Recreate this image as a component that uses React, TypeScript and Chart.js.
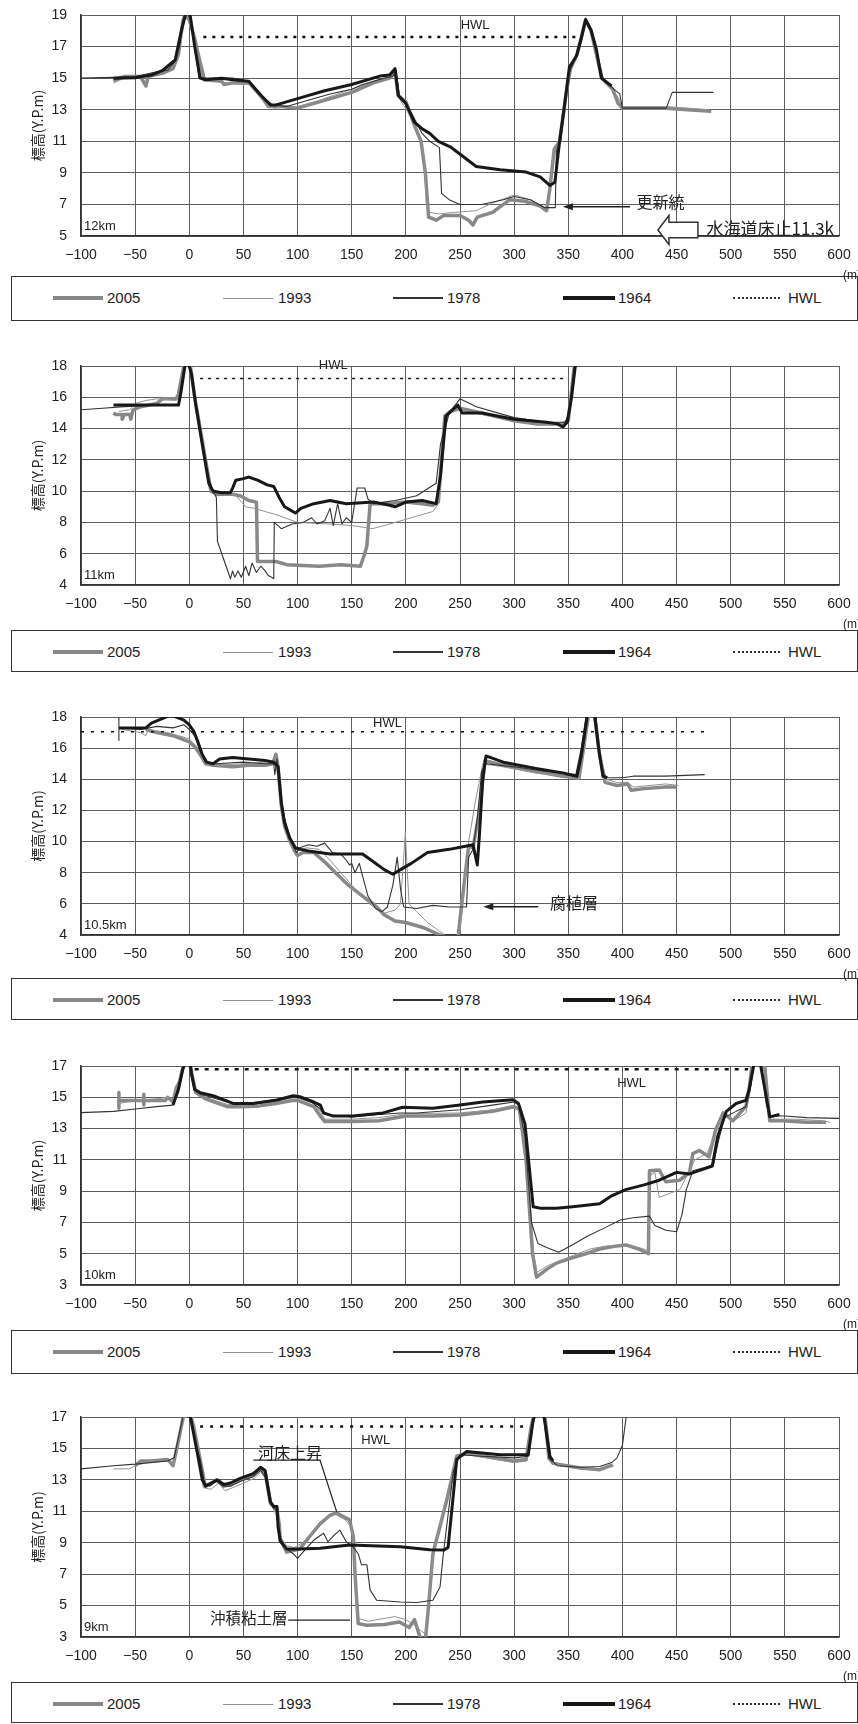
import React, { useEffect, useRef } from 'react';
import { Chart, registerables } from 'chart.js';

Chart.register(...registerables);

type Pt = [number, number];

// ---------- categories / labels ----------
const years = ['2005', '1993', '1978', '1964'];
const hwlName = 'HWL';
const yTitle = '標高(Y.P.m)';
const unitLabel = '(m)';
const xMin = -100;
const xMax = 600;
const xStep = 50;
const yStep = 2;

// ---------- 12km ----------
const km12_2005: Pt[] = [[-70,14.8],[-65,15.0],[-60,15.1],[-45,15.1],[-40,14.5],[-38,15.1],[-25,15.3],[-15,15.6],[-10,16.5],[-6,18.6],[-4,19.0],[0,18.7],[5,17.5],[10,16.0],[14,14.9],[30,14.8],[32,14.6],[40,14.7],[55,14.7],[65,14.0],[73,13.2],[85,13.2],[100,13.1],[120,13.5],[150,14.1],[170,14.7],[185,15.0],[190,15.4],[193,13.9],[200,13.5],[208,12.0],[214,11.0],[218,9.0],[221,6.2],[228,6.0],[235,6.3],[250,6.3],[258,6.0],[262,5.7],[266,6.2],[280,6.5],[296,7.3],[310,7.2],[324,6.9],[330,6.6],[333,8.0],[337,10.5],[342,11.0],[348,14.0],[352,15.6],[358,16.5],[366,18.7],[371,18.0],[381,15.0],[391,14.3],[396,13.4],[400,13.1],[440,13.1],[460,13.0],[482,12.9]];
const km12_1993: Pt[] = [[-70,14.7],[-60,15.0],[-40,15.2],[-25,15.4],[-15,15.8],[-10,16.8],[-5,18.8],[-2,19.0],[2,18.2],[8,16.0],[12,15.0],[30,14.7],[55,14.6],[70,13.4],[78,13.1],[100,13.2],[120,13.6],[150,14.3],[175,14.9],[186,15.0],[190,15.3],[193,13.8],[205,12.5],[213,11.2],[217,10.0],[219,7.0],[222,6.5],[230,6.4],[245,6.5],[265,6.6],[280,7.1],[300,7.6],[315,7.3],[328,6.8],[332,7.2],[336,10.3],[342,11.2],[350,15.0],[360,17.0],[366,18.8],[372,17.8],[381,15.0],[395,13.9],[400,13.2],[440,13.2],[480,13.0]];
const km12_1978: Pt[] = [[-100,15.0],[-70,15.05],[-50,15.1],[-30,15.4],[-20,15.5],[-14,16.0],[-9,17.0],[-5,18.9],[-2,19.2],[1,18.7],[6,16.5],[9,15.0],[20,15.0],[40,15.0],[55,14.8],[68,13.8],[77,13.3],[90,13.2],[105,13.5],[130,14.0],[150,14.3],[160,14.6],[180,15.0],[188,15.1],[191,15.5],[194,13.9],[205,12.8],[215,11.5],[222,11.0],[231,10.6],[233,7.7],[240,7.3],[250,7.0],[270,7.0],[290,7.3],[300,7.5],[315,7.3],[328,6.8],[338,6.8],[339,10.4],[343,11.0],[350,15.2],[357,16.4],[366,18.8],[372,17.9],[382,15.0],[392,14.3],[397.5,14.0],[400,13.1],[440.5,13.1],[446,14.1],[484,14.1]];
const km12_1964: Pt[] = [[-70,15.0],[-50,15.03],[-35,15.2],[-25,15.47],[-13,16.15],[-8,17.8],[-4,18.9],[-2,19.3],[1,18.9],[5,17.0],[10,15.0],[15,14.9],[30,15.0],[40,14.9],[55,14.8],[65,14.0],[75,13.3],[80,13.3],[85,13.4],[100,13.7],[125,14.2],[150,14.6],[176,15.13],[185,15.2],[190,15.6],[193,13.9],[200,13.4],[208,12.2],[215,11.8],[222,11.5],[230,11.0],[241,10.65],[265,9.4],[287,9.2],[311,9.05],[324,8.75],[333,8.2],[337.6,8.4],[342,11.0],[346,13.0],[351,15.7],[357.6,16.4],[362,17.5],[366,18.7],[371,18.05],[376,16.8],[380.6,15.0],[390,14.5]];
const km12_hwl: Pt[] = [[13,17.6],[357,17.6]];

// ---------- 11km ----------
const km11_2005: Pt[] = [[-70,15.0],[-68,14.9],[-62,14.9],[-62,14.6],[-60,14.9],[-55,14.9],[-54,14.6],[-52,15.2],[-45,15.4],[-30,15.6],[-25,15.9],[-12,15.9],[-10,16.2],[-5,18.0],[-2,18.2],[1,18.0],[5,16.0],[10,14.0],[15,12.0],[20,10.0],[25,9.8],[40,9.8],[47,9.7],[55,9.4],[62,9.3],[63,5.5],[80,5.5],[90,5.3],[120,5.2],[140,5.3],[158,5.2],[162,6.0],[164,6.5],[167,9.2],[180,9.2],[200,9.3],[215,9.2],[225,9.1],[230,9.3],[236,14.8],[241,15.1],[250,15.3],[270,15.0],[300,14.5],[320,14.3],[345,14.3],[350,14.5],[356,18.3]];
const km11_1993: Pt[] = [[-65,15.1],[-55,15.2],[-50,15.6],[-40,15.8],[-30,15.9],[-12,15.8],[-9,16.2],[-5,17.8],[-2,18.2],[1,17.8],[8,15.0],[15,12.0],[20,10.2],[30,9.8],[42,9.8],[52,9.0],[60,8.9],[70,8.7],[80,8.5],[100,8.0],[130,7.9],[150,7.8],[169,7.6],[180,7.8],[200,8.2],[215,8.5],[225,8.7],[230,9.2],[235,13.5],[240,15.0],[250,15.2],[270,14.9],[300,14.5],[330,14.3],[346,14.3],[350,14.8],[356,18.3]];
const km11_1978: Pt[] = [[-100,15.2],[-80,15.3],[-60,15.4],[-30,15.5],[-10,15.5],[-9,16.0],[-5,17.8],[-2,18.2],[1,18.0],[6,15.5],[12,13.0],[18,10.8],[22,10.0],[25,9.6],[26,6.8],[32,5.6],[38,4.4],[40,4.9],[42,4.5],[45,4.9],[48,4.5],[52,5.2],[55,4.6],[58,5.4],[62,4.8],[66,5.2],[70,4.9],[73,4.6],[76,4.5],[78,4.4],[78.5,8.0],[85,7.6],[95,7.9],[105,8.0],[113,8.3],[118,7.9],[125,8.1],[130,8.9],[133,7.8],[137,9.2],[141,7.9],[145,8.3],[150,8.0],[155,10.2],[162,10.2],[165,9.5],[170,9.2],[190,9.4],[210,9.7],[228,10.5],[232,13.0],[240,15.0],[250,15.9],[265,15.4],[300,14.7],[330,14.4],[347,14.4],[351,15.0],[356,18.3]];
const km11_1964: Pt[] = [[-70,15.5],[-50,15.5],[-30,15.5],[-10,15.5],[-8,16.2],[-4,18.0],[-1,18.2],[2,17.5],[6,15.5],[12,13.0],[18,10.5],[22,10.0],[30,9.9],[38,9.9],[40,10.2],[43,10.7],[50,10.8],[55,10.9],[63,10.7],[72,10.4],[78,10.3],[83,9.6],[88,9.0],[93,8.8],[98,8.6],[103,8.9],[115,9.2],[130,9.4],[145,9.2],[170,9.3],[185,9.1],[190,9.0],[200,9.3],[215,9.4],[228,9.2],[232,11.0],[237,14.8],[243,15.2],[248,15.5],[252,15.0],[270,15.0],[300,14.6],[330,14.4],[340,14.3],[345,14.1],[349,14.4],[353,16.0],[357,18.3]];
const km11_hwl: Pt[] = [[10,17.2],[348,17.2]];

// ---------- 10.5km ----------
const km105_2005: Pt[] = [[-40,17.2],[-30,17.0],[-15,16.8],[0,16.4],[5,16.1],[10,15.6],[15,15.0],[22,14.9],[40,14.8],[55,14.9],[70,14.9],[77,15.0],[80,15.6],[82,14.8],[85,12.3],[88,11.0],[93,10.0],[98,9.3],[100,9.1],[105,9.3],[115,9.3],[125,8.7],[135,8.0],[147,7.2],[160,6.5],[170,6.0],[180,5.3],[190,4.9],[200,4.8],[215,4.5],[225,4.2],[235,3.9],[240,3.6],[248,3.7],[250,5.0],[255,8.0],[258,9.7],[262,9.6],[268,12.0],[273,15.2],[290,14.9],[320,14.5],[345,14.2],[360,14.1],[363,15.5],[369,18.3],[374,18.3],[379,15.5],[384,13.8],[395,13.6],[405,13.7],[408,13.3],[420,13.4],[440,13.5],[450,13.5]];
const km105_1993: Pt[] = [[-62,17.2],[-45,17.0],[-40,16.8],[-38,17.2],[-20,17.0],[0,16.6],[8,16.0],[14,15.1],[25,14.9],[50,15.0],[70,15.1],[78,15.2],[81,14.6],[84,12.8],[88,11.3],[93,10.1],[100,9.4],[108,9.6],[120,9.5],[130,8.8],[140,8.0],[150,7.2],[160,6.4],[170,5.8],[180,5.4],[190,5.6],[195,6.0],[198,9.0],[199.5,10.6],[201,8.5],[203,6.0],[210,5.5],[220,4.8],[230,4.3],[238,3.9],[244,3.7],[250,4.3],[254,7.0],[258,10.0],[264,12.5],[271,15.0],[290,14.8],[320,14.4],[345,14.2],[360,14.0],[365,16.0],[370,18.3],[375,18.3],[380,15.5],[385,14.0],[395,13.8],[405,13.8],[410,13.5],[440,13.7],[452,13.6]];
const km105_1978: Pt[] = [[-65,18.3],[-65,16.5],[-65,17.3],[-45,17.2],[-30,17.4],[-15,17.3],[-5,17.5],[0,17.2],[5,16.8],[10,15.8],[15,15.1],[25,15.0],[50,15.1],[70,15.0],[78,15.0],[79,14.3],[81,15.3],[84,13.0],[88,11.5],[94,10.0],[99,9.3],[102,9.6],[110,9.8],[118,9.7],[125,9.9],[132,9.3],[140,9.2],[145,8.8],[148,8.5],[150,8.6],[153,8.0],[157,8.6],[160,7.8],[165,6.5],[172,5.7],[178,5.5],[183,5.8],[188,7.2],[192,9.0],[195,7.0],[198,5.8],[210,5.7],[225,5.9],[240,5.8],[256,5.8],[258,9.0],[262,9.5],[266,11.5],[270,14.5],[274,15.0],[300,14.8],[330,14.5],[357,14.3],[362,16.0],[367,18.3],[375,18.3],[380,15.0],[384,14.1],[400,14.1],[410,14.2],[440,14.2],[476,14.3]];
const km105_1964: Pt[] = [[-65,17.3],[-40,17.3],[-35,17.6],[-25,17.9],[-18,18.1],[-12,18.0],[-5,17.8],[0,17.5],[4,17.1],[8,16.4],[12,15.6],[16,15.1],[22,15.0],[28,15.3],[40,15.4],[55,15.3],[70,15.2],[78,15.1],[82,14.8],[85,12.5],[88,11.2],[93,10.2],[98,9.6],[103,9.5],[110,9.4],[120,9.3],[130,9.2],[145,9.2],[160,9.2],[170,8.7],[180,8.2],[188,7.9],[195,8.2],[205,8.6],[220,9.3],[240,9.5],[255,9.7],[262,9.8],[266,8.5],[268,10.5],[271,14.0],[274,15.5],[290,15.1],[320,14.7],[345,14.4],[358,14.2],[362,15.5],[368,18.3],[374,18.3],[378,16.0],[382,14.2],[386,14.1]];
const km105_hwl: Pt[] = [[-100,17.05],[477,17.05]];

// ---------- 10km ----------
const km10_2005: Pt[] = [[-65,14.8],[-65,14.3],[-65,15.3],[-65,14.8],[-42,14.8],[-42,15.2],[-42,14.5],[-42,14.8],[-22,14.8],[-20,15.0],[-15,14.7],[-12,15.6],[-9,16.0],[-5,17.2],[0,17.4],[3,16.3],[6,15.3],[15,14.9],[35,14.4],[50,14.4],[65,14.45],[80,14.6],[95,14.8],[100,14.8],[115,14.4],[121,13.8],[125,13.45],[150,13.45],[175,13.5],[200,13.8],[225,13.8],[250,13.87],[280,14.1],[300,14.4],[305,14.2],[311,11.0],[317,5.0],[320.7,3.5],[330,4.0],[339,4.4],[352,4.7],[366,5.0],[379,5.3],[395,5.5],[404,5.55],[415,5.3],[424,5.0],[425,10.3],[434,10.35],[440,9.6],[453,9.7],[462,10.2],[465,11.4],[471,11.6],[480,11.2],[486,12.9],[493,14.0],[502,13.5],[514,14.4],[517,15.5],[520,17.3],[531,17.3],[536,13.5],[548,13.5],[570,13.4],[588,13.4]];
const km10_1993: Pt[] = [[-65,14.6],[-50,14.8],[-30,14.9],[-20,15.0],[-15,14.7],[-12,15.6],[-7,16.5],[-3,17.3],[0,17.5],[3,16.5],[6,15.4],[15,15.0],[35,14.55],[50,14.5],[65,14.6],[80,14.75],[95,14.95],[100,14.95],[115,14.6],[122,14.0],[125,13.6],[150,13.6],[175,13.7],[200,13.95],[250,14.0],[280,14.2],[300,14.5],[305,14.3],[312,11.0],[318,5.0],[321,3.8],[330,4.2],[340,4.5],[355,4.9],[370,5.3],[385,5.5],[400,5.5],[415,5.4],[424,5.2],[425,10.0],[430,10.2],[434,8.6],[445,8.9],[453,9.1],[459,9.9],[467,11.0],[478,11.4],[485,12.5],[492,13.8],[505,13.6],[514,14.0],[518,15.5],[521,17.3],[530,17.3],[535,14.0],[540,13.6],[560,13.6],[585,13.5],[592,13.4]];
const km10_1978: Pt[] = [[-100,14.02],[-70,14.1],[-50,14.25],[-30,14.4],[-15,14.5],[-12,15.2],[-7,16.5],[-3,17.3],[0,17.5],[2,16.8],[5,15.6],[10,15.2],[20,15.0],[35,14.7],[50,14.6],[65,14.7],[80,14.85],[95,15.0],[100,15.0],[113,14.7],[120,14.3],[125,13.9],[150,13.75],[175,13.9],[195,14.0],[210,14.0],[250,14.2],[280,14.5],[300,14.7],[304,14.5],[310,12.5],[316,7.0],[322,5.65],[330,5.4],[341,5.1],[355,5.6],[367,6.1],[385,6.7],[398,7.15],[410,7.3],[425,7.4],[430,6.8],[440,6.5],[450,6.4],[455,7.5],[459,9.1],[465,10.3],[475,10.5],[484,10.7],[488,12.0],[494,13.7],[505,14.1],[514,14.4],[518,15.5],[522,17.3],[528,17.3],[533,14.5],[537,13.8],[550,13.8],[570,13.7],[600,13.65]];
const km10_1964: Pt[] = [[-15,14.5],[-10,15.5],[-6,16.8],[-3,17.3],[0,17.5],[2,16.5],[5,15.5],[10,15.3],[22,15.1],[41,14.6],[59,14.6],[81,14.83],[96,15.1],[102,15.04],[115,14.7],[121,14.5],[124,14.0],[133,13.8],[151,13.8],[179,14.0],[197,14.36],[225,14.3],[250,14.5],[271,14.7],[299,14.85],[304,14.6],[310,13.3],[317.6,8.0],[325,7.9],[339,7.9],[354,8.0],[379,8.2],[390,8.7],[403,9.1],[420,9.4],[434,9.7],[450,10.2],[462,10.1],[483,10.6],[488,12.5],[496,14.1],[505,14.6],[514,14.8],[517,15.5],[522,17.3],[527,17.3],[536,13.75],[545,13.9]];
const km10_hwl: Pt[] = [[5,16.8],[516,16.8]];

// ---------- 9km ----------
const km9_2005: Pt[] = [[-50,13.9],[-45,14.2],[-35,14.2],[-20,14.3],[-15,13.9],[-10,15.5],[-5,17.2],[0,17.4],[4,16.4],[10,14.3],[14.7,12.6],[19,12.7],[25,13.0],[32,12.6],[38,12.7],[47,13.0],[59,13.3],[65,13.75],[70,13.5],[75,11.5],[78,11.3],[81,11.1],[83,10.2],[84,9.2],[90,8.4],[96,8.5],[102,8.6],[110,9.3],[120.7,10.2],[130,10.75],[136,10.9],[142,10.66],[148,10.45],[151.5,9.4],[153,7.05],[156,3.85],[164,3.75],[180,3.8],[194,3.95],[203,3.6],[208,4.1],[213,3.0],[218,2.8],[221,5.0],[225,8.3],[237.7,11.7],[247,14.5],[256,14.7],[299,14.2],[311,14.3],[316,16.5],[319,17.3],[328,17.3],[333,14.3],[336,14.05],[361,13.75],[379,13.65],[391,13.95]];
const km9_1993: Pt[] = [[-70,13.7],[-55,13.7],[-50,13.9],[-40,14.1],[-20,14.2],[-15,14.0],[-10,15.5],[-5,17.2],[0,17.4],[4,16.0],[8,14.5],[13,12.5],[20,12.4],[27,12.8],[33,12.3],[40,12.5],[50,12.8],[60,13.1],[66,13.5],[71,13.0],[75,11.5],[80,10.8],[84,9.4],[90,8.8],[97,8.7],[105,9.0],[115,9.8],[125,10.5],[135,10.8],[143,10.5],[150,10.0],[152,8.5],[155,4.2],[165,4.0],[190,4.3],[200,4.1],[207,3.8],[212,3.5],[218,3.2],[225,8.0],[236,11.5],[246,14.3],[256,14.6],[300,14.1],[312,14.2],[317,16.8],[320,17.3],[327,17.3],[331,14.3],[340,14.0],[360,13.7],[380,13.6],[392,13.9]];
const km9_1978: Pt[] = [[-100,13.7],[-70,13.9],[-50,14.0],[-20,14.2],[-14,14.4],[-9,16.0],[-5,17.3],[0,17.4],[3,16.5],[7,15.0],[10,14.3],[14,12.8],[19,12.6],[25,12.9],[31,12.6],[38,12.6],[47,12.9],[59,13.2],[66,13.6],[70,13.2],[74,11.6],[78,11.2],[81,11.0],[84,9.3],[90,8.6],[96,8.3],[100,8.0],[105,8.4],[115,9.17],[124,9.6],[128,9.06],[134,9.5],[139,9.8],[145,9.06],[151,8.75],[156,8.3],[159,7.6],[164,7.6],[167,6.0],[173,5.34],[195,5.23],[210,5.2],[225,5.34],[231.6,6.2],[234.6,8.3],[244,13.6],[250,14.6],[270,14.5],[300,14.4],[313,14.5],[317,16.5],[320,17.3],[327,17.3],[332,14.4],[340,13.9],[360,13.8],[379,13.85],[390,14.1],[395,14.4],[400,15.2],[404,17.3]];
const km9_1964: Pt[] = [[-2,17.3],[0,17.4],[3,16.3],[8,14.5],[12,13.0],[15,12.6],[20,12.8],[26,13.0],[32,12.7],[38,12.8],[47,13.1],[59,13.4],[66,13.8],[70,13.6],[75,11.6],[78,11.3],[81,11.3],[82,10.0],[84,9.1],[90,8.6],[96,8.6],[102,8.6],[121,8.65],[148,8.85],[195,8.75],[222,8.55],[235,8.53],[239,8.7],[244,12.15],[247,14.3],[256,14.8],[287,14.6],[313,14.6],[317.6,16.8],[320,17.3],[327,17.3],[333,14.5],[336,14.2]];
const km9_hwl: Pt[] = [[10,16.4],[313,16.4]];

// ---------- styles ----------
const SANS = "'Liberation Sans', Arial, sans-serif";
const CJK = "'Noto Sans CJK JP', 'Noto Sans CJK SC', sans-serif";
const INK = '#222222';
const GRID = '#5e5e5e';
const W = 858;
const PAD_T = 15;
const X_H = 50;
const Y_W = 81;
const PAD_R = 19;

const seriesStyle = [
  { color: '#888888', width: 3.5, order: 4 },
  { color: '#939393', width: 1, order: 3 },
  { color: '#333333', width: 1.1, order: 2 },
  { color: '#181818', width: 3, order: 1 },
];

type Note =
  | { t: 'text'; x: number; y: number; s: string; font: string; align: CanvasTextAlign }
  | { t: 'arrow'; x1: number; y1: number; x2: number; y2: number }
  | { t: 'poly'; pts: Pt[] }
  | { t: 'block'; x: number; y: number };

const panels = [
  {
    km: '12km', plotTop: 15, plotH: 221, yMin: 5, yMax: 19,
    series: [km12_2005, km12_1993, km12_1978, km12_1964], hwl: km12_hwl,
    hwlW: 2.5, hwlDash: [3, 6], legendTop: 276, legendH: 45,
    notes: [
      { t: 'text', x: 264, y: 18.37, s: hwlName, font: `13px ${SANS}`, align: 'center' },
      { t: 'arrow', x1: 345, y1: 6.86, x2: 407, y2: 6.86 },
      { t: 'text', x: 413, y: 7.18, s: '更新統', font: `16px ${CJK}`, align: 'left' },
      { t: 'block', x: 432.8, y: 5.38 },
      { t: 'text', x: 477.7, y: 5.49, s: '水海道床止11.3k', font: `17px ${CJK}`, align: 'left' },
    ] as Note[],
  },
  {
    km: '11km', plotTop: 366, plotH: 219, yMin: 4, yMax: 18,
    series: [km11_2005, km11_1993, km11_1978, km11_1964], hwl: km11_hwl,
    hwlW: 1.5, hwlDash: [3, 5], legendTop: 630, legendH: 42,
    notes: [
      { t: 'text', x: 132.9, y: 18.02, s: hwlName, font: `13px ${SANS}`, align: 'center' },
    ] as Note[],
  },
  {
    km: '10.5km', plotTop: 717, plotH: 218, yMin: 4, yMax: 18,
    series: [km105_2005, km105_1993, km105_1978, km105_1964], hwl: km105_hwl,
    hwlW: 1.5, hwlDash: [3, 7], legendTop: 978, legendH: 42,
    notes: [
      { t: 'text', x: 183, y: 17.6, s: hwlName, font: `13px ${SANS}`, align: 'center' },
      { t: 'arrow', x1: 271.5, y1: 5.82, x2: 322.3, y2: 5.82 },
      { t: 'text', x: 333, y: 6.03, s: '腐植層', font: `16px ${CJK}`, align: 'left' },
    ] as Note[],
  },
  {
    km: '10km', plotTop: 1066, plotH: 219, yMin: 3, yMax: 17,
    series: [km10_2005, km10_1993, km10_1978, km10_1964], hwl: km10_hwl,
    hwlW: 2.5, hwlDash: [4, 6], legendTop: 1330, legendH: 44,
    notes: [
      { t: 'text', x: 408.5, y: 15.89, s: hwlName, font: `13px ${SANS}`, align: 'center' },
    ] as Note[],
  },
  {
    km: '9km', plotTop: 1417, plotH: 220, yMin: 3, yMax: 17,
    series: [km9_2005, km9_1993, km9_1978, km9_1964], hwl: km9_hwl,
    hwlW: 2.5, hwlDash: [3, 7], legendTop: 1682, legendH: 41,
    notes: [
      { t: 'text', x: 172.2, y: 15.54, s: hwlName, font: `13px ${SANS}`, align: 'center' },
      { t: 'text', x: 93, y: 14.73, s: '河床上昇', font: `16px ${CJK}`, align: 'center' },
      { t: 'poly', pts: [[59.1, 14.26], [120.7, 14.26], [136.1, 10.97]] },
      { t: 'text', x: 19.1, y: 4.19, s: '沖積粘土層', font: `15.5px ${CJK}`, align: 'left' },
      { t: 'poly', pts: [[91.4, 4.08], [148.4, 4.08]] },
    ] as Note[],
  },
];

const legendLines = [
  { x1: 53, x2: 103, tx: 107, h: 4, color: '#888888', dotted: false },
  { x1: 223, x2: 273, tx: 278, h: 1, color: '#939393', dotted: false },
  { x1: 393, x2: 443, tx: 447, h: 1.5, color: '#333333', dotted: false },
  { x1: 563, x2: 615, tx: 618, h: 4, color: '#181818', dotted: false },
  { x1: 733, x2: 780, tx: 788, h: 2, color: '#333333', dotted: true },
];

function drawNotes(chart: any, p: any) {
  const { ctx, chartArea: a, scales } = chart;
  const xs = scales.x;
  const ys = scales.y;
  const px = (v: number) => xs.getPixelForValue(v);
  const py = (v: number) => ys.getPixelForValue(v);
  ctx.save();
  ctx.fillStyle = INK;
  ctx.strokeStyle = INK;
  ctx.textBaseline = 'alphabetic';
  ctx.textAlign = 'left';
  ctx.font = `13px ${SANS}`;
  ctx.fillText(p.km, a.left + 3, a.bottom - 6);
  ctx.font = `12px ${SANS}`;
  ctx.textBaseline = 'middle';
  ctx.fillText(unitLabel, 843, a.bottom + 40);
  for (const n of p.notes as Note[]) {
    if (n.t === 'text') {
      ctx.font = n.font;
      ctx.textAlign = n.align;
      ctx.textBaseline = 'middle';
      ctx.fillStyle = INK;
      ctx.fillText(n.s, px(n.x), py(n.y));
    } else if (n.t === 'arrow') {
      const x1 = px(n.x1), y1 = py(n.y1), x2 = px(n.x2), y2 = py(n.y2);
      ctx.lineWidth = 1.5;
      ctx.beginPath();
      ctx.moveTo(x1 + 6, y1);
      ctx.lineTo(x2, y2);
      ctx.stroke();
      ctx.beginPath();
      ctx.moveTo(x1, y1);
      ctx.lineTo(x1 + 10, y1 - 3.5);
      ctx.lineTo(x1 + 10, y1 + 3.5);
      ctx.closePath();
      ctx.fill();
    } else if (n.t === 'poly') {
      ctx.lineWidth = 1.2;
      ctx.beginPath();
      n.pts.forEach(([x, y], i) => (i ? ctx.lineTo(px(x), py(y)) : ctx.moveTo(px(x), py(y))));
      ctx.stroke();
    } else if (n.t === 'block') {
      const tx = px(n.x), ty = py(n.y);
      ctx.beginPath();
      ctx.moveTo(tx, ty);
      ctx.lineTo(tx + 11, ty - 14.5);
      ctx.lineTo(tx + 11, ty - 7.8);
      ctx.lineTo(tx + 40, ty - 7.8);
      ctx.lineTo(tx + 40, ty + 7.8);
      ctx.lineTo(tx + 11, ty + 7.8);
      ctx.lineTo(tx + 11, ty + 14.5);
      ctx.closePath();
      ctx.fillStyle = '#ffffff';
      ctx.fill();
      ctx.lineWidth = 1.5;
      ctx.strokeStyle = '#333';
      ctx.stroke();
    }
  }
  ctx.restore();
}

function PanelChart({ p }: { p: any }) {
  const ref = useRef<HTMLCanvasElement | null>(null);
  const H = PAD_T + p.plotH + X_H;
  useEffect(() => {
    const canvas = ref.current;
    if (!canvas) return;
    const datasets: any[] = p.series.map((pts: Pt[], i: number) => ({
      label: years[i],
      data: pts.map(([x, y]) => ({ x, y })),
      borderColor: seriesStyle[i].color,
      borderWidth: seriesStyle[i].width,
      order: seriesStyle[i].order,
      pointRadius: 0,
      tension: 0,
      fill: false,
      borderJoinStyle: 'round',
    }));
    datasets.push({
      label: hwlName,
      data: p.hwl.map(([x, y]: Pt) => ({ x, y })),
      borderColor: '#111',
      borderWidth: p.hwlW,
      borderDash: p.hwlDash,
      order: 0,
      pointRadius: 0,
      fill: false,
    });
    const notesPlugin = {
      id: 'notes',
      afterDraw(chart: any) {
        drawNotes(chart, p);
      },
    };
    const tickFont = { family: SANS, size: 14 };
    const chart = new Chart(canvas, {
      type: 'line',
      data: { datasets },
      options: {
        animation: false,
        responsive: false,
        events: [],
        layout: { padding: { top: PAD_T, right: PAD_R, bottom: 0, left: 0 } },
        plugins: { legend: { display: false }, tooltip: { enabled: false } },
        scales: {
          x: {
            type: 'linear',
            min: xMin,
            max: xMax,
            ticks: {
              stepSize: xStep,
              autoSkip: false,
              maxRotation: 0,
              padding: 11,
              color: INK,
              font: tickFont,
              callback: (v: any) => (v < 0 ? '\u2212' + Math.abs(v) : String(v)),
            },
            grid: { color: GRID, lineWidth: 1, drawTicks: false },
            border: { color: '#333', width: 1.5 },
            afterFit: (s: any) => {
              s.height = X_H;
              s.paddingLeft = 0;
              s.paddingRight = 0;
            },
          },
          y: {
            type: 'linear',
            min: p.yMin,
            max: p.yMax,
            ticks: { stepSize: yStep, padding: 14, color: INK, font: tickFont },
            grid: { color: GRID, lineWidth: 1, drawTicks: false },
            border: { color: '#333', width: 1.5 },
            title: {
              display: true,
              text: yTitle,
              color: INK,
              font: { family: CJK, size: 14 },
              padding: { top: 29, bottom: 0 },
            },
            afterFit: (s: any) => {
              s.width = Y_W;
              s.paddingTop = 0;
              s.paddingBottom = 0;
            },
          },
        },
      } as any,
      plugins: [notesPlugin],
    });
    return () => chart.destroy();
  }, []);
  return (
    <canvas
      ref={ref}
      width={W}
      height={H}
      style={{ position: 'absolute', left: 0, top: p.plotTop - PAD_T, width: W, height: H }}
    />
  );
}

function Legend({ top, height }: { top: number; height: number }) {
  const cy = top + 22;
  const names = [...years, hwlName];
  return (
    <>
      <div
        style={{
          position: 'absolute',
          left: 11,
          top,
          width: 847,
          height,
          border: '1.5px solid #333',
          boxSizing: 'border-box',
        }}
      />
      {legendLines.map((l, i) => (
        <React.Fragment key={i}>
          {l.dotted ? (
            <div
              style={{
                position: 'absolute',
                left: l.x1,
                top: cy - 1,
                width: l.x2 - l.x1,
                height: 0,
                borderTop: `2px dotted ${l.color}`,
              }}
            />
          ) : (
            <div
              style={{
                position: 'absolute',
                left: l.x1,
                top: cy - l.h / 2,
                width: l.x2 - l.x1,
                height: l.h,
                background: l.color,
              }}
            />
          )}
          <div
            style={{
              position: 'absolute',
              left: l.tx,
              top: cy - 9,
              height: 18,
              lineHeight: '18px',
              fontFamily: SANS,
              fontSize: 15,
              color: INK,
              whiteSpace: 'nowrap',
            }}
          >
            {names[i]}
          </div>
        </React.Fragment>
      ))}
    </>
  );
}

export default function App() {
  return (
    <div
      style={{
        position: 'absolute',
        left: 0,
        top: 0,
        width: W,
        height: 1724,
        background: '#ffffff',
        overflow: 'hidden',
      }}
    >
      {panels.map((p, i) => (
        <Legend key={'l' + i} top={p.legendTop} height={p.legendH} />
      ))}
      {panels.map((p, i) => (
        <PanelChart key={'c' + i} p={p} />
      ))}
    </div>
  );
}
